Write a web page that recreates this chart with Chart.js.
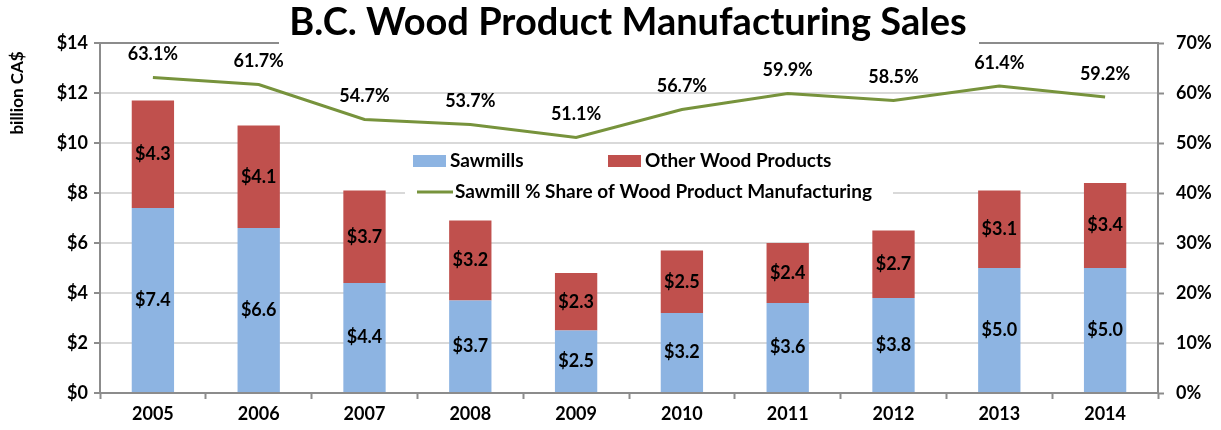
<!DOCTYPE html>
<html>
<head>
<meta charset="utf-8">
<script src="https://cdn.jsdelivr.net/npm/chart.js@4.4.1/dist/chart.umd.min.js"></script>
<style>
  html, body { margin: 0; padding: 0; background: #fff; }
  #wrap { width: 1221px; height: 430px; }
</style>
</head>
<body>
<div id="wrap"><canvas id="salesChart" width="1221" height="430"></canvas></div>
<script>
const years = ['2005', '2006', '2007', '2008', '2009', '2010', '2011', '2012', '2013', '2014'];
const sawmills = [7.4, 6.6, 4.4, 3.7, 2.5, 3.2, 3.6, 3.8, 5.0, 5.0];
const otherWood = [4.3, 4.1, 3.7, 3.2, 2.3, 2.5, 2.4, 2.7, 3.1, 3.4];
const sawmillShare = [63.1, 61.7, 54.7, 53.7, 51.1, 56.7, 59.9, 58.5, 61.4, 59.2];

const FONT = 'Lato, "Open Sans", sans-serif';
const AXIS_GREY = '#8c8c8c';
const GRID_GREY = '#d9d9d9';

// labels on bars and above the line points
const valueLabels = {
    id: 'valueLabels',
    afterDatasetsDraw(chart) {
        const ctx = chart.ctx;
        ctx.save();
        ctx.fillStyle = '#000';
        ctx.textAlign = 'center';
        ctx.textBaseline = 'middle';
        chart.data.datasets.forEach((ds, i) => {
            const meta = chart.getDatasetMeta(i);
            meta.data.forEach((el, j) => {
                if (ds.type === 'line') {
                    ctx.font = 'bold 18px ' + FONT;
                    ctx.fillText(ds.data[j].toFixed(1) + '%', el.x, el.y - 23);
                } else {
                    ctx.font = 'bold 18px ' + FONT;
                    ctx.fillText('$' + ds.data[j].toFixed(1), el.x, (el.y + el.base) / 2);
                }
            });
        });
        ctx.restore();
    }
};

// legend sitting inside the plot, with a white box behind it
const innerLegend = {
    id: 'innerLegend',
    beforeDatasetsDraw(chart) {
        const ctx = chart.ctx;
        const ds = chart.data.datasets;
        ctx.save();
        ctx.fillStyle = '#fff';
        ctx.fillRect(405, 146, 488, 59);
        ctx.font = 'bold 19px ' + FONT;
        ctx.textBaseline = 'middle';
        ctx.textAlign = 'left';
        ctx.fillStyle = ds[0].backgroundColor;
        ctx.fillRect(413, 155, 33, 12);
        ctx.fillStyle = '#000';
        ctx.fillText(ds[0].label, 450, 161);
        ctx.fillStyle = ds[1].backgroundColor;
        ctx.fillRect(608, 155, 33, 12);
        ctx.fillStyle = '#000';
        ctx.fillText(ds[1].label, 645, 161);
        ctx.strokeStyle = ds[2].borderColor;
        ctx.lineWidth = 3;
        ctx.beginPath();
        ctx.moveTo(417, 192);
        ctx.lineTo(453, 192);
        ctx.stroke();
        ctx.fillText(ds[2].label, 455, 192);
        ctx.restore();
    }
};

// plot border, title and left axis caption
const frame = {
    id: 'frame',
    beforeDatasetsDraw(chart) {
        const a = chart.chartArea;
        const ctx = chart.ctx;
        ctx.save();
        ctx.strokeStyle = AXIS_GREY;
        ctx.lineWidth = 2;
        ctx.beginPath();
        ctx.moveTo(a.left, a.top);
        ctx.lineTo(a.right, a.top);
        ctx.stroke();
        ctx.restore();
    },
    afterDraw(chart) {
        const ctx = chart.ctx;
        ctx.save();
        ctx.fillStyle = '#fff';
        ctx.fillRect(279, 0, 700, 46);
        ctx.fillStyle = '#000';
        ctx.font = 'bold 38px ' + FONT;
        ctx.textAlign = 'center';
        ctx.textBaseline = 'middle';
        ctx.fillText('B.C. Wood Product Manufacturing Sales', 628, 23);
        ctx.translate(18, 93);
        ctx.rotate(-Math.PI / 2);
        ctx.font = 'bold 17px ' + FONT;
        ctx.fillText('billion CA$', 0, 0);
        ctx.restore();
    }
};

const tickFont = { family: FONT, weight: 'bold', size: 18 };

const ctx = document.getElementById('salesChart').getContext('2d');
new Chart(ctx, {
    type: 'bar',
    data: {
        labels: years,
        datasets: [
            {
                label: 'Sawmills',
                data: sawmills,
                backgroundColor: '#8db4e2',
                stack: 'sales',
                yAxisID: 'y',
                order: 2,
                barPercentage: 0.4,
                categoryPercentage: 1
            },
            {
                label: 'Other Wood Products',
                data: otherWood,
                backgroundColor: '#c0504d',
                stack: 'sales',
                yAxisID: 'y',
                order: 2,
                barPercentage: 0.4,
                categoryPercentage: 1
            },
            {
                type: 'line',
                label: 'Sawmill % Share of Wood Product Manufacturing',
                data: sawmillShare,
                borderColor: '#77933c',
                borderWidth: 3,
                pointRadius: 0,
                tension: 0,
                yAxisID: 'y1',
                order: 1
            }
        ]
    },
    options: {
        responsive: false,
        animation: false,
        layout: { padding: { top: 43, left: 0, right: 0, bottom: 0 } },
        plugins: {
            legend: { display: false },
            title: { display: false },
            tooltip: { enabled: false }
        },
        scales: {
            x: {
                stacked: true,
                grid: {
                    offset: true,
                    drawOnChartArea: false,
                    drawTicks: true,
                    tickLength: 6,
                    tickColor: AXIS_GREY,
                    tickWidth: 2
                },
                border: { color: AXIS_GREY, width: 2 },
                ticks: {
                    color: '#000',
                    font: tickFont,
                    padding: 4
                },
                afterFit(scale) { scale.height = 37; }
            },
            y: {
                stacked: true,
                position: 'left',
                min: 0,
                max: 14,
                grid: {
                    color: GRID_GREY,
                    lineWidth: 2,
                    tickLength: 6,
                    tickColor: AXIS_GREY,
                    tickWidth: 2
                },
                border: { color: AXIS_GREY, width: 2 },
                ticks: {
                    stepSize: 2,
                    color: '#000',
                    padding: 6,
                    font: tickFont,
                    callback: v => '$' + v
                },
                afterFit(scale) { scale.width = 100; }
            },
            y1: {
                position: 'right',
                min: 0,
                max: 70,
                grid: {
                    drawOnChartArea: false,
                    tickLength: 6,
                    tickColor: AXIS_GREY,
                    tickWidth: 2
                },
                border: { color: AXIS_GREY, width: 2 },
                ticks: {
                    stepSize: 10,
                    color: '#000',
                    padding: 12,
                    font: tickFont,
                    callback: v => v + '%'
                },
                afterFit(scale) { scale.width = 63; }
            }
        }
    },
    plugins: [innerLegend, valueLabels, frame]
});
</script>
</body>
</html>
